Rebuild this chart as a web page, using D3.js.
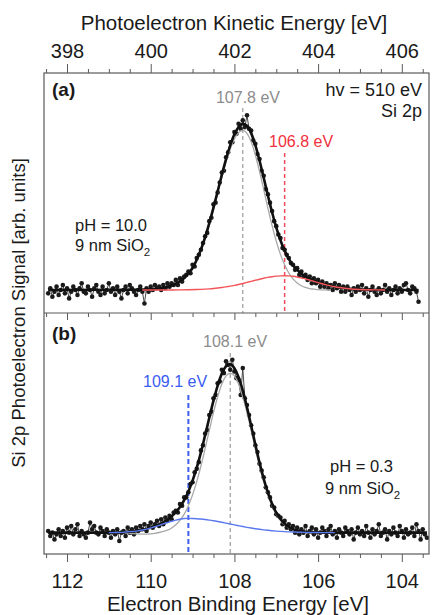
<!DOCTYPE html>
<html>
<head>
<meta charset="utf-8">
<script src="https://cdn.jsdelivr.net/npm/d3@7"></script>
<style>
  body { margin: 0; background: #fff; }
  svg { display: block; font-family: "Liberation Sans", Arial, sans-serif; }
</style>
</head>
<body>
<script>
// energy axes
var photonEnergy = 510;
var beDomain = [112.55, 103.35];
var beMajorTicks = [112, 110, 108, 106, 104];
var keMajorTicks = [398, 400, 402, 404, 406];

// measured spectra, one value per 0.05 eV step from 112.45 eV downwards
var scanStep = 0.05;
var scanStartA = 112.45;
var scanA = [
  -2, 1, -4, -1, 2, -3, 0, 3, -2, 1,
  -5, -1, 2, 0, -3, 1, 4, -1, -2, 2,
  0, -4, 1, 3, -1, -3, 2, -2, 0, 4,
  -1, 1, -3, 2, -1, -5, 0, 2, -2, 3,
  1, -1, -3, 0, 2, -1, -8, 1, -1,
  2, 0, 3, 1, 2, 0, 3, 1, 4, 2,
  4, 3, 6, 3, 7, 5, 8, 9, 11, 10,
  15, 14, 19, 21, 24, 28, 32, 34, 41, 43,
  51, 52, 58, 64, 70, 71, 79, 82, 88, 88,
  94, 93, 99, 96, 101, 97, 104, 96, 95, 89,
  87, 81, 78, 71, 68, 60, 57, 52, 47, 41,
  38, 33, 31, 25, 24, 21, 19, 16, 15, 12,
  13, 9, 11, 8, 9, 6, 8, 4, 7, 4,
  6, 2, 5, 2, 4, 1, 3, 0, 4, 1,
  3, -1, 2, -1, 2, 0, -3, 1, -1, 2,
  0, 3, -2, 1, -4, 0, 2, -1, -3, 1,
  -2, 0, 3, -1, 1, -3, 0, 2, -2, 1,
  -1, 3, 4, 0, -2, 2, 1, -1, -7
];
var scanStartB = 112.45;
var scanB = [
  1, -2, 0, -4, -1, 2, -2, 1, -3, 3,
  0, 4, -1, 2, 5, -2, 1, -1, -3, 0,
  6, 2, 4, 0, -1, 3, 1, -2, 2, 0,
  -3, 1, -1, 2, -5, 0, 1, -2, 3,
  0, 2, -1, 3, 1, 4, 2, 5, 1, 4,
  6, 3, 5, 7, 4, 8, 5, 9, 7, 10,
  8, 12, 13, 12, 17, 16, 21, 21, 24, 29,
  30, 36, 38, 42, 49, 52, 59, 61, 70, 72,
  80, 82, 89, 90, 97, 95, 102, 100, 97, 103,
  96, 92, 91, 82, 98, 80, 76, 70, 64, 59,
  52, 48, 41, 37, 33, 27, 24, 21, 16, 15,
  11, 10, 9, 5, 7, 3, 5, 2, 4, 0,
  3, -1, 2, 0, 4, -2, 1, 3, -1, 2,
  -3, 0, 3, 1, -2, 2, 4, -1, 1, -3,
  2, 0, -2, 3, 1, -1, 2, -4, 0, 3,
  -1, 1, -2, 4, 0, -3, 2, -1, 1, 5,
  -2, 0, 2, -4, 1, -1, 3, 0, -2, 4,
  1, -3, 2, -1, 0, 3, -2, 5, 1, -4,
  2, -1, -3
];

// fitted curves [binding energy, signal]
var fitA = [
  [112.45, 0], [110.4, 0.1], [110.2, 0.2], [110.0, 0.4], [109.9, 0.6], [109.8, 0.9], [109.7, 1.3],
  [109.6, 1.9], [109.5, 2.7], [109.4, 3.8], [109.3, 5.3], [109.2, 7.1], [109.1, 9.9], [109.0, 13.1],
  [108.9, 18.0], [108.8, 24.1], [108.7, 31.3], [108.6, 39.8], [108.5, 49.0], [108.4, 58.8],
  [108.3, 68.6], [108.2, 77.9], [108.1, 86.1], [108.0, 92.7], [107.9, 97.0], [107.8, 98.9],
  [107.7, 97.8], [107.6, 93.4], [107.5, 86.2], [107.4, 77.1], [107.3, 66.8], [107.2, 56.3],
  [107.1, 46.3], [107.0, 37.3], [106.9, 29.6], [106.8, 23.5], [106.7, 18.5], [106.6, 14.8],
  [106.5, 12.0], [106.4, 9.7], [106.3, 8.1], [106.2, 6.7], [106.1, 5.7], [106.0, 4.6],
  [105.9, 3.8], [105.8, 3.1], [105.7, 2.5], [105.6, 2.0], [105.5, 1.5], [105.4, 1.2],
  [105.3, 0.9], [105.2, 0.6], [105.1, 0.5], [105.0, 0.3], [104.8, 0.1], [104.5, 0], [103.6, 0]
];
var mainA = [
  [110.4, 0.1], [110.2, 0.2], [110.0, 0.4], [109.9, 0.6], [109.8, 0.9], [109.7, 1.3], [109.6, 1.9],
  [109.5, 2.7], [109.4, 3.7], [109.3, 5.2], [109.2, 7.0], [109.1, 9.8], [109.0, 12.9], [108.9, 17.7],
  [108.8, 23.7], [108.7, 30.8], [108.6, 39.1], [108.5, 48.1], [108.4, 57.6], [108.3, 67.1],
  [108.2, 76.1], [108.1, 83.8], [108.0, 89.9], [107.9, 93.7], [107.8, 95.0], [107.7, 93.3],
  [107.6, 88.2], [107.5, 80.4], [107.4, 70.7], [107.3, 59.8], [107.2, 48.8], [107.1, 38.4],
  [107.0, 29.1], [106.9, 21.2], [106.8, 15.0], [106.7, 10.1], [106.6, 6.6], [106.5, 4.2],
  [106.4, 2.5], [106.3, 1.5], [106.2, 0.8], [106.1, 0.5], [106.0, 0.2], [105.9, 0.1], [105.7, 0]
];
var shiftA = [
  [110.2, 0], [109.8, 0.01], [109.5, 0.03], [109.3, 0.07], [109.1, 0.14], [108.9, 0.27], [108.8, 0.37],
  [108.7, 0.51], [108.6, 0.68], [108.5, 0.89], [108.4, 1.15], [108.3, 1.47], [108.2, 1.84],
  [108.1, 2.27], [108.0, 2.76], [107.9, 3.30], [107.8, 3.89], [107.7, 4.51], [107.6, 5.16],
  [107.5, 5.80], [107.4, 6.42], [107.3, 6.99], [107.2, 7.50], [107.1, 7.92], [107.0, 8.24],
  [106.9, 8.43], [106.8, 8.5], [106.7, 8.41], [106.6, 8.16], [106.5, 7.75], [106.4, 7.22],
  [106.3, 6.59], [106.2, 5.89], [106.1, 5.16], [106.0, 4.42], [105.9, 3.72], [105.8, 3.06],
  [105.7, 2.47], [105.6, 1.96], [105.5, 1.52], [105.4, 1.15], [105.3, 0.86], [105.2, 0.62],
  [105.1, 0.45], [105.0, 0.32], [104.8, 0.14], [104.6, 0.06], [104.4, 0]
];
var fitB = [
  [112.45, 0], [110.8, 0.05], [110.7, 0.2], [110.6, 0.4], [110.5, 0.6], [110.4, 0.8], [110.3, 1.1],
  [110.2, 1.7], [110.1, 2.2], [110.0, 3.0], [109.9, 3.8], [109.8, 4.9], [109.7, 6.2], [109.6, 7.7],
  [109.5, 9.7], [109.4, 12.2], [109.3, 15.3], [109.2, 19.4], [109.1, 24.5], [109.0, 31.0],
  [108.9, 38.7], [108.8, 47.8], [108.7, 58.0], [108.6, 68.4], [108.5, 78.6], [108.4, 87.6],
  [108.3, 94.7], [108.2, 99.0], [108.1, 100.2], [108.0, 97.9], [107.9, 92.6], [107.8, 84.6],
  [107.7, 74.7], [107.6, 63.7], [107.5, 52.5], [107.4, 41.7], [107.3, 32.1], [107.2, 23.9],
  [107.1, 17.2], [107.0, 11.9], [106.9, 8.1], [106.8, 5.3], [106.7, 3.4], [106.6, 2.1],
  [106.5, 1.3], [106.4, 0.8], [106.3, 0.5], [106.2, 0.3], [106.1, 0.15], [105.9, 0.05],
  [105.6, 0], [103.4, 0]
];
var mainB = [
  [110.6, 0], [110.4, -0.6], [110.2, -0.9], [110.0, -0.7], [109.9, -0.4], [109.8, 0.1], [109.7, 0.7],
  [109.6, 1.5], [109.5, 2.8], [109.4, 4.7], [109.3, 7.3], [109.2, 11.0], [109.1, 16.0], [109.0, 22.5],
  [108.9, 30.4], [108.8, 39.7], [108.7, 50.1], [108.6, 60.9], [108.5, 71.5], [108.4, 80.9],
  [108.3, 88.5], [108.2, 93.3], [108.1, 95.0], [108.0, 93.3], [107.9, 88.5], [107.8, 80.9],
  [107.7, 71.5], [107.6, 60.9], [107.5, 50.1], [107.4, 39.7], [107.3, 30.4], [107.2, 22.5],
  [107.1, 16.0], [107.0, 11.0], [106.9, 7.3], [106.8, 4.7], [106.7, 2.9], [106.6, 1.7],
  [106.5, 1.0], [106.4, 0.55], [106.3, 0.3], [106.2, 0.15], [106.0, 0.05], [105.8, 0]
];
var shiftB = [
  [111.0, 0], [110.8, 0.1], [110.7, 0.2], [110.6, 0.4], [110.5, 0.6], [110.4, 0.8], [110.3, 1.1],
  [110.2, 1.6], [110.1, 2.1], [110.0, 2.8], [109.9, 3.5], [109.8, 4.3], [109.7, 5.2], [109.6, 6.0],
  [109.5, 6.8], [109.4, 7.5], [109.3, 8.0], [109.2, 8.4], [109.1, 8.5], [109.0, 8.46], [108.9, 8.33],
  [108.8, 8.13], [108.7, 7.85], [108.6, 7.5], [108.5, 7.1], [108.4, 6.65], [108.3, 6.17],
  [108.2, 5.67], [108.1, 5.16], [108.0, 4.64], [107.9, 4.14], [107.8, 3.65], [107.7, 3.19],
  [107.6, 2.76], [107.5, 2.36], [107.4, 2.0], [107.3, 1.68], [107.2, 1.40], [107.1, 1.15],
  [107.0, 0.94], [106.9, 0.76], [106.8, 0.60], [106.7, 0.48], [106.6, 0.37], [106.5, 0.29],
  [106.4, 0.23], [106.3, 0.17], [106.1, 0.09], [105.9, 0.04], [105.6, 0]
];

// peak positions marked by dashed lines
var peakMainA = 107.8, peakShiftA = 106.8;
var peakMainB = 108.1, peakShiftB = 109.1;

var width = 432, height = 615;
var plotLeft = 44, plotRight = 429;
var panelA = {top: 73, bottom: 313};
var panelB = {top: 313, bottom: 554};
var frameColor = "#5a5a5a";

var svg = d3.select("body").append("svg")
    .attr("width", width)
    .attr("height", height);

var x = d3.scaleLinear().domain(beDomain).range([plotLeft, plotRight]);
var xKin = d3.scaleLinear()
    .domain(beDomain.map(function(d) { return photonEnergy - d; }))
    .range([plotLeft, plotRight]);

var yA = d3.scaleLinear().domain([-13.7, 129.2]).range([panelA.bottom, panelA.top]);
var yB = d3.scaleLinear().domain([-12.7, 130.8]).range([panelB.bottom, panelB.top]);

function minorTicks(lo, hi, majors) {
    return d3.range(lo, hi + 0.001, 0.5).filter(function(v) {
        return majors.indexOf(v) < 0;
    });
}
var beMinor = minorTicks(103.5, 112.5, beMajorTicks);
var keMinor = minorTicks(397.5, 406.5, keMajorTicks);

function styleAxis(g) {
    g.select(".domain").remove();
    g.selectAll(".tick line").attr("stroke", frameColor).attr("stroke-width", 1);
    g.selectAll(".tick text")
        .attr("fill", "#1a1a1a")
        .attr("font-size", 20)
        .attr("font-family", "Liberation Sans, Arial, sans-serif");
}

// top axis: kinetic energy
svg.append("g")
    .attr("transform", "translate(0," + panelA.top + ")")
    .call(d3.axisTop(xKin).tickValues(keMinor).tickSize(4).tickFormat(""))
    .call(styleAxis);
svg.append("g")
    .attr("transform", "translate(0," + panelA.top + ")")
    .call(d3.axisTop(xKin).tickValues(keMajorTicks).tickSize(9).tickPadding(6).tickFormat(d3.format("d")))
    .call(styleAxis);

// bottom axis: binding energy
svg.append("g")
    .attr("transform", "translate(0," + panelB.bottom + ")")
    .call(d3.axisBottom(x).tickValues(beMinor).tickSize(4).tickFormat(""))
    .call(styleAxis);
svg.append("g")
    .attr("transform", "translate(0," + panelB.bottom + ")")
    .call(d3.axisBottom(x).tickValues(beMajorTicks).tickSize(8).tickPadding(12).tickFormat(d3.format("d")))
    .call(styleAxis);

// ticks on the shared border, pointing into panel (b)
svg.append("g")
    .attr("transform", "translate(0," + panelB.top + ")")
    .call(d3.axisBottom(x).tickValues(beMinor).tickSize(4).tickFormat(""))
    .call(styleAxis);
svg.append("g")
    .attr("transform", "translate(0," + panelB.top + ")")
    .call(d3.axisBottom(x).tickValues(beMajorTicks).tickSize(7).tickFormat(""))
    .call(styleAxis);

// axis titles
svg.append("text")
    .attr("x", 234).attr("y", 30)
    .attr("text-anchor", "middle")
    .attr("font-size", 20.5)
    .attr("fill", "#1a1a1a")
    .text("Photoelectron Kinetic Energy [eV]");
svg.append("text")
    .attr("x", 238).attr("y", 611)
    .attr("text-anchor", "middle")
    .attr("font-size", 20.5)
    .attr("fill", "#1a1a1a")
    .text("Electron Binding Energy [eV]");
svg.append("text")
    .attr("transform", "translate(25," + 313 + ") rotate(-90)")
    .attr("text-anchor", "middle")
    .attr("font-size", 18.5)
    .attr("fill", "#1a1a1a")
    .text("Si 2p Photoelectron Signal [arb. units]");

function drawPanel(name, panel, y, scanStart, scan, fit, main, shift, shiftColor, peaks) {
    var g = svg.append("g");
    g.append("clipPath").attr("id", "clip-" + name)
      .append("rect")
        .attr("x", plotLeft).attr("y", panel.top)
        .attr("width", plotRight - plotLeft).attr("height", panel.bottom - panel.top);

    var body = g.append("g").attr("clip-path", "url(#clip-" + name + ")");

    // dashed peak markers
    peaks.forEach(function(p) {
        body.append("line")
            .attr("x1", x(p.be)).attr("x2", x(p.be))
            .attr("y1", p.top).attr("y2", panel.bottom)
            .attr("stroke", p.color)
            .attr("stroke-width", p.sw)
            .attr("stroke-dasharray", p.dash);
    });

    var points = scan.map(function(v, i) { return [scanStart - i * scanStep, v]; });

    var line = d3.line()
        .x(function(d) { return x(d[0]); })
        .y(function(d) { return y(d[1]); });
    var smooth = d3.line()
        .curve(d3.curveMonotoneX)
        .x(function(d) { return x(d[0]); })
        .y(function(d) { return y(d[1]); });

    body.append("path")
        .datum(points)
        .attr("fill", "none")
        .attr("stroke", "#4a4a4a")
        .attr("stroke-width", 1)
        .attr("d", line);

    body.selectAll(".pt")
        .data(points)
        .enter()
      .append("circle")
        .attr("class", "pt")
        .attr("cx", function(d) { return x(d[0]); })
        .attr("cy", function(d) { return y(d[1]); })
        .attr("r", 2.3)
        .attr("fill", "#1a1a1a");

    body.append("path")
        .datum(main)
        .attr("fill", "none")
        .attr("stroke", "#a8a8a8")
        .attr("stroke-width", 1.3)
        .attr("d", smooth);

    body.append("path")
        .datum(fit)
        .attr("fill", "none")
        .attr("stroke", "#111")
        .attr("stroke-width", 2.6)
        .attr("d", smooth);

    body.append("path")
        .datum(shift)
        .attr("fill", "none")
        .attr("stroke", shiftColor)
        .attr("stroke-width", 1.4)
        .attr("d", smooth);
}

drawPanel("a", panelA, yA, scanStartA, scanA, fitA, mainA, shiftA, "#f2555a", [
    {be: peakMainA, top: 108, color: "#9a9a9a", sw: 1.2, dash: "4,3"},
    {be: peakShiftA, top: 153, color: "#f04a5c", sw: 1.5, dash: "4,3"}
]);
drawPanel("b", panelB, yB, scanStartB, scanB, fitB, mainB, shiftB, "#5b79ee", [
    {be: peakMainB, top: 353, color: "#9a9a9a", sw: 1.2, dash: "4,3"},
    {be: peakShiftB, top: 395, color: "#3f5ff0", sw: 2, dash: "5,3"}
]);

// frame
svg.append("rect")
    .attr("x", plotLeft).attr("y", panelA.top)
    .attr("width", plotRight - plotLeft).attr("height", panelB.bottom - panelA.top)
    .attr("fill", "none")
    .attr("stroke", frameColor)
    .attr("stroke-width", 1.2);
svg.append("line")
    .attr("x1", plotLeft).attr("x2", plotRight)
    .attr("y1", panelB.top).attr("y2", panelB.top)
    .attr("stroke", frameColor)
    .attr("stroke-width", 1.2);

// annotations
function label(txt, xPos, yPos, opts) {
    var t = svg.append("text")
        .attr("x", xPos).attr("y", yPos)
        .attr("font-size", opts.size)
        .attr("fill", opts.color || "#1a1a1a")
        .attr("text-anchor", opts.anchor || "start")
        .attr("font-weight", opts.weight || "normal")
        .text(txt);
    return t;
}
function oxideLabel(xPos, yPos, anchor) {
    var t = svg.append("text")
        .attr("x", xPos).attr("y", yPos)
        .attr("font-size", 16.5)
        .attr("fill", "#1a1a1a")
        .attr("text-anchor", anchor);
    t.append("tspan").text("9 nm SiO");
    t.append("tspan").attr("font-size", 11.5).attr("dy", 5).text("2");
}

label("(a)", 52, 96, {size: 19, weight: "bold"});
label("hv = 510 eV", 422, 96, {size: 18, anchor: "end"});
label("Si 2p", 422, 117, {size: 18, anchor: "end"});
label("107.8 eV", 248, 103, {size: 16, color: "#8c8c8c", anchor: "middle"});
label("106.8 eV", 269, 147, {size: 16, color: "#f0303c"});
label("pH = 10.0", 75, 231, {size: 16.5});
oxideLabel(75, 251, "start");

label("(b)", 52, 340, {size: 19, weight: "bold"});
label("108.1 eV", 203, 347, {size: 16, color: "#8c8c8c"});
label("109.1 eV", 143, 387, {size: 16, color: "#3a5cf2"});
label("pH = 0.3", 330, 472, {size: 16.5});
oxideLabel(325, 494, "start");
</script>
</body>
</html>
